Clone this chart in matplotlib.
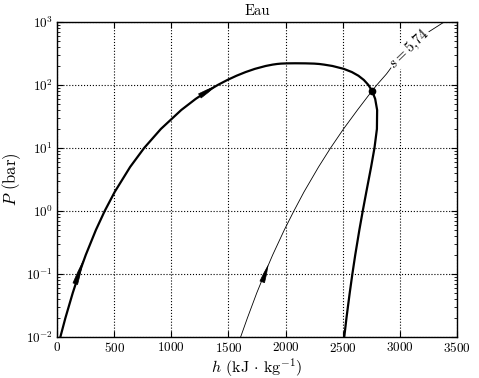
import matplotlib
matplotlib.use("Agg")
import matplotlib.pyplot as plt
import numpy as np

# courbe de saturation de l'eau (P en bar, h en kJ/kg)
p_sat = [0.01, 0.02, 0.05, 0.1, 0.2, 0.5, 1, 2, 5, 10, 20, 40, 60, 80,
         100, 120, 140, 160, 180, 200, 210, 215, 218, 220, 220.64]
h_liq = [29.3, 73.4, 137.8, 191.8, 251.4, 340.5, 417.5, 504.7, 640.2, 762.8,
         908.8, 1087.3, 1213.4, 1316.6, 1407.6, 1491.3, 1571.1, 1650.1, 1732.0,
         1826.3, 1886.3, 1925.0, 1960.0, 2015.0, 2084.0]
h_vap = [2513.8, 2533.0, 2561.5, 2584.7, 2609.7, 2645.9, 2675.5, 2706.7, 2748.7,
         2778.1, 2799.5, 2801.4, 2784.3, 2758.0, 2724.7, 2684.9, 2637.6, 2580.6,
         2509.1, 2409.7, 2338.0, 2295.0, 2250.0, 2175.0, 2084.0]

# isentrope s = 5,74 kJ/(kg.K)
p_isen = [0.01, 0.02, 0.05, 0.1, 0.2, 0.5, 1, 2, 5, 10, 20, 40, 60, 80.5,
          100, 150, 200, 300, 500, 700, 1000]
h_isen = [1607, 1666, 1748, 1816, 1887, 1989, 2073, 2161, 2289, 2394, 2507,
          2629, 2703, 2757, 2799, 2884, 2935, 3025, 3160, 3255, 3389]

point_h, point_p = 2757, 80.5

# petites flèches de sens de parcours : (h0, p0, h1, p1)
fleches = [(1250, 67, 1385, 95), (160, 0.07, 228, 0.16), (1796, 0.075, 1846, 0.135)]

plt.rcParams["font.family"] = "serif"
plt.rcParams["font.serif"] = ["cmr10", "DejaVu Serif"]
plt.rcParams["mathtext.fontset"] = "cm"
plt.rcParams["axes.formatter.use_mathtext"] = True
plt.rcParams["axes.unicode_minus"] = False

fig = plt.figure(figsize=(4.79, 3.78), dpi=100)
ax = fig.add_axes([0.119, 0.1085, 0.835, 0.8335])

h_dome = np.concatenate([h_liq, h_vap[::-1]])
p_dome = np.concatenate([p_sat, p_sat[::-1]])
ax.plot(h_dome, p_dome, "-", color="k", lw=1.6)
ax.plot(h_isen, p_isen, "-", color="k", lw=0.6)
ax.plot([point_h], [point_p], "o", color="k", ms=4.5)

for h0, p0, h1, p1 in fleches:
    ax.annotate("", xy=(h1, p1), xytext=(h0, p0),
                arrowprops=dict(arrowstyle="wedge,tail_width=0.35,shrink_factor=0.6",
                                color="k", lw=0.5, shrinkA=0, shrinkB=0))

ax.text(3080, 375, r"$s = 5{,}74$", rotation=44, ha="center", va="center",
        fontsize=10.5, bbox=dict(facecolor="white", edgecolor="none", pad=0.3))

ax.set_yscale("log")
ax.set_xlim(0, 3500)
ax.set_ylim(1e-2, 1e3)
ax.set_xticks(np.arange(0, 3501, 500))
ax.grid(True, which="major", color="k", linestyle=":", lw=0.8)
ax.tick_params(which="both", direction="in", top=True, right=True, labelsize=9.5)
ax.tick_params(which="major", length=4, pad=3)
ax.tick_params(which="minor", length=2)
for sp in ax.spines.values():
    sp.set_linewidth(1.0)

ax.set_title("Eau", fontsize=10.5, pad=5)
ax.set_xlabel(r"$h$ (kJ $\cdot$ kg$^{-1}$)", fontsize=11.5, labelpad=1)
ax.set_ylabel(r"$P$ (bar)", fontsize=12, labelpad=2)

fig.savefig("out.png", dpi=100)
